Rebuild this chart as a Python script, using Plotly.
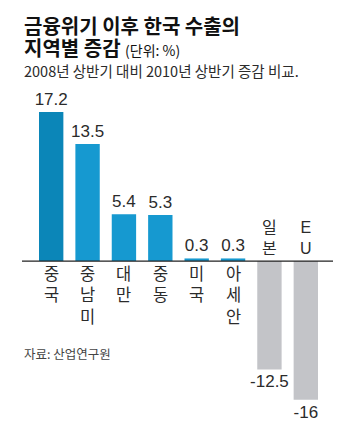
import plotly.graph_objects as go

categories = ["중국", "중남미", "대만", "중동", "미국", "아세안", "일본", "EU"]
values = [17.2, 13.5, 5.4, 5.3, 0.3, 0.3, -12.5, -16]
value_labels = ["17.2", "13.5", "5.4", "5.3", "0.3", "0.3", "-12.5", "-16"]
colors = ["#0b86b8", "#1699d0", "#1699d0", "#1699d0", "#1699d0", "#1699d0", "#c3c4c8", "#c3c4c8"]

title_line1 = "금융위기 이후 한국 수출의"
title_line2 = "지역별 증감"
unit_text = "(단위: %)"
subtitle = "2008년 상반기 대비 2010년 상반기 증감 비교."
source = "자료: 산업연구원"

W, H = 350, 426
L, R, T, B = 33, 26, 95, 21
PW = W - L - R
PH = H - T - B
FONT = "Liberation Sans, Noto Sans CJK KR, sans-serif"
KFONT = "Noto Sans CJK KR, sans-serif"

def px_x(px):
    return (px - L) / PW

def px_y(py):
    return (H - B - py) / PH

fig = go.Figure()
fig.add_trace(go.Bar(
    x=list(range(len(categories))), y=values, marker=dict(color=colors, line=dict(width=0)),
    text=value_labels, textposition="outside", constraintext="none",
    textfont=dict(family=FONT, size=17, color="#2b2b2b"), cliponaxis=False,
    hoverinfo="skip",
))

ann = []
for i, (lab, v) in enumerate(zip(categories, values)):
    txt = "<br>".join(list(lab))
    if v >= 0:
        ann.append(dict(x=i, y=0, xref="x", yref="y", text=txt, showarrow=False,
                        yshift=-2, yanchor="top", xanchor="center",
                        font=dict(family=FONT, size=16.5, color="#2b2b2b")))
    else:
        ann.append(dict(x=i, y=0, xref="x", yref="y", text=txt, showarrow=False,
                        yshift=2, yanchor="bottom", xanchor="center",
                        font=dict(family=FONT, size=16, color="#2b2b2b")))

ann.append(dict(x=px_x(22), y=px_y(25), xref="paper", yref="paper", xanchor="left", yanchor="middle",
                text="<b>" + title_line1 + "</b>", showarrow=False,
                font=dict(family=KFONT, size=20, color="#111")))
ann.append(dict(x=px_x(22), y=px_y(47), xref="paper", yref="paper", xanchor="left", yanchor="middle",
                text="<b>" + title_line2 + "</b> <span style='font-size:14px'>" + unit_text + "</span>",
                showarrow=False, font=dict(family=KFONT, size=20, color="#111")))
ann.append(dict(x=px_x(22), y=px_y(70.5), xref="paper", yref="paper", xanchor="left", yanchor="middle",
                text=subtitle, showarrow=False, font=dict(family=KFONT, size=14.5, color="#2b2b2b")))
ann.append(dict(x=px_x(22), y=px_y(353), xref="paper", yref="paper", xanchor="left", yanchor="middle",
                text=source, showarrow=False, font=dict(family=KFONT, size=12.5, color="#444")))

fig.update_layout(
    width=W, height=H, margin=dict(l=L, r=R, t=T, b=B),
    paper_bgcolor="white", plot_bgcolor="white", showlegend=False,
    bargap=0.33,
    xaxis=dict(range=[-0.5, len(categories) - 0.5], visible=False, fixedrange=True),
    yaxis=dict(range=[-16.6, 19.15], visible=False, fixedrange=True),
    annotations=ann,
    shapes=[dict(type="line", xref="paper", yref="y", x0=px_x(22), x1=px_x(333), y0=0, y1=0,
                 line=dict(color="#222", width=1.2))],
)
fig.write_html("out.html")
